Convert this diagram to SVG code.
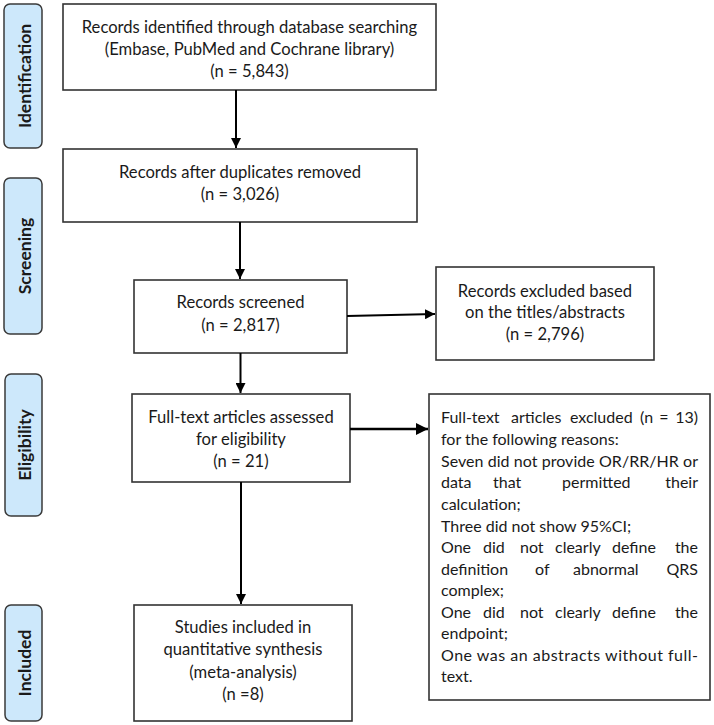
<svg xmlns="http://www.w3.org/2000/svg" width="714" height="725" viewBox="0 0 714 725">
<style>
.bg{fill:#ffffff}
.box{fill:#ffffff;stroke:#333333;stroke-width:1.6}
.side{fill:#cde8fb;stroke:#3a3a3a;stroke-width:1.5}
.t{font-family:Lato,"Liberation Sans",sans-serif;font-size:16px;fill:#1a1a1a}
.b{font-size:16.6px}
.c{text-anchor:middle}
.e{text-anchor:end}
.st{font-family:Lato,"Liberation Sans",sans-serif;font-size:17.5px;font-weight:bold;fill:#1a1a1a;text-anchor:middle}
.ln{stroke:#000000;stroke-width:2;fill:none}
</style>
<defs>
<marker id="ah" viewBox="0 0 10 10" refX="10" refY="5" markerWidth="5" markerHeight="5" orient="auto" markerUnits="strokeWidth">
<path d="M0,0 L10,5 L0,10 z" fill="#000000"/>
</marker>
</defs>
<rect class="bg" x="0" y="0" width="714" height="725"/>

<g id="side-identification">
<rect class="side" x="4" y="4" width="38" height="144" rx="6"/>
<text class="st" transform="translate(30.5,76) rotate(-90)">Identification</text>
</g>
<g id="side-screening">
<rect class="side" x="4" y="178" width="38" height="156" rx="6"/>
<text class="st" transform="translate(30.5,256) rotate(-90)">Screening</text>
</g>
<g id="side-eligibility">
<rect class="side" x="5" y="374" width="37" height="142" rx="6"/>
<text class="st" transform="translate(30.5,445) rotate(-90)">Eligibility</text>
</g>
<g id="side-included">
<rect class="side" x="5" y="605" width="37" height="116" rx="6"/>
<text class="st" transform="translate(30.5,663) rotate(-90)">Included</text>
</g>

<g id="n1">
<rect class="box" x="63" y="4" width="373" height="86"/>
<text class="t b c" x="249.5" y="33">Records identified through database searching</text>
<text class="t b c" x="249.5" y="55">(Embase, PubMed and Cochrane library)</text>
<text class="t b c" x="249.5" y="77">(n = 5,843)</text>
</g>
<g id="n2">
<rect class="box" x="63" y="149" width="354" height="73"/>
<text class="t b c" x="240" y="178">Records after duplicates removed</text>
<text class="t b c" x="240" y="200">(n = 3,026)</text>
</g>
<g id="n3">
<rect class="box" x="134" y="280" width="213" height="73"/>
<text class="t b c" x="240.5" y="308">Records screened</text>
<text class="t b c" x="240.5" y="331">(n = 2,817)</text>
</g>
<g id="n4">
<rect class="box" x="436" y="267" width="218" height="93"/>
<text class="t b c" x="545" y="297">Records excluded based</text>
<text class="t b c" x="545" y="318">on the titles/abstracts</text>
<text class="t b c" x="545" y="340">(n = 2,796)</text>
</g>
<g id="n5">
<rect class="box" x="132" y="394" width="218" height="88"/>
<text class="t b c" x="241" y="423">Full-text articles assessed</text>
<text class="t b c" x="241" y="445">for eligibility</text>
<text class="t b c" x="241" y="467">(n = 21)</text>
</g>
<g id="n6">
<rect class="box" x="429" y="394" width="281" height="306"/>
<text class="t" y="423"><tspan x="441">Full-text</tspan><tspan x="511">articles</tspan><tspan x="570">excluded</tspan><tspan x="640">(n</tspan></text>
<text class="t c" x="664" y="423">=</text>
<text class="t e" x="698" y="423">13)</text>
<text class="t" x="441" y="445">for the following reasons:</text>
<text class="t" x="441" y="466.5" textLength="257" lengthAdjust="spacing">Seven did not provide OR/RR/HR or</text>
<text class="t" y="488"><tspan x="441">data</tspan><tspan x="493">that</tspan><tspan x="562">permitted</tspan></text>
<text class="t e" x="698" y="488">their</text>
<text class="t" x="441" y="510">calculation;</text>
<text class="t" x="441" y="531.5">Three did not show 95%CI;</text>
<text class="t" y="553"><tspan x="441">One</tspan><tspan x="483">did</tspan><tspan x="520">not</tspan><tspan x="555">clearly</tspan><tspan x="612">define</tspan></text>
<text class="t e" x="698" y="553">the</text>
<text class="t" y="574.5"><tspan x="441">definition</tspan><tspan x="535">of</tspan><tspan x="573">abnormal</tspan></text>
<text class="t e" x="698" y="574.5">QRS</text>
<text class="t" x="441" y="596">complex;</text>
<text class="t" y="618"><tspan x="441">One</tspan><tspan x="483">did</tspan><tspan x="520">not</tspan><tspan x="555">clearly</tspan><tspan x="612">define</tspan></text>
<text class="t e" x="698" y="618">the</text>
<text class="t" x="441" y="639">endpoint;</text>
<text class="t" x="441" y="661" textLength="257" lengthAdjust="spacing">One was an abstracts without full-</text>
<text class="t" x="441" y="682">text.</text>
</g>
<g id="n7">
<rect class="box" x="134" y="605" width="218" height="116"/>
<text class="t b c" x="243" y="633">Studies included in</text>
<text class="t b c" x="243" y="655">quantitative synthesis</text>
<text class="t b c" x="243" y="678">(meta-analysis)</text>
<text class="t b c" x="243" y="700">(n =8)</text>
</g>

<g id="connectors">
<line class="ln" x1="236" y1="90" x2="236" y2="148" marker-end="url(#ah)"/>
<line class="ln" x1="240" y1="222" x2="240" y2="279" marker-end="url(#ah)"/>
<line class="ln" x1="347" y1="316" x2="435" y2="314" marker-end="url(#ah)"/>
<line class="ln" x1="240.5" y1="353" x2="240.5" y2="393" marker-end="url(#ah)"/>
<line class="ln" x1="350" y1="429" x2="428" y2="429" style="stroke-width:2.5" marker-end="url(#ah)"/>
<line class="ln" x1="241" y1="482" x2="241" y2="604" marker-end="url(#ah)"/>
</g>
</svg>
